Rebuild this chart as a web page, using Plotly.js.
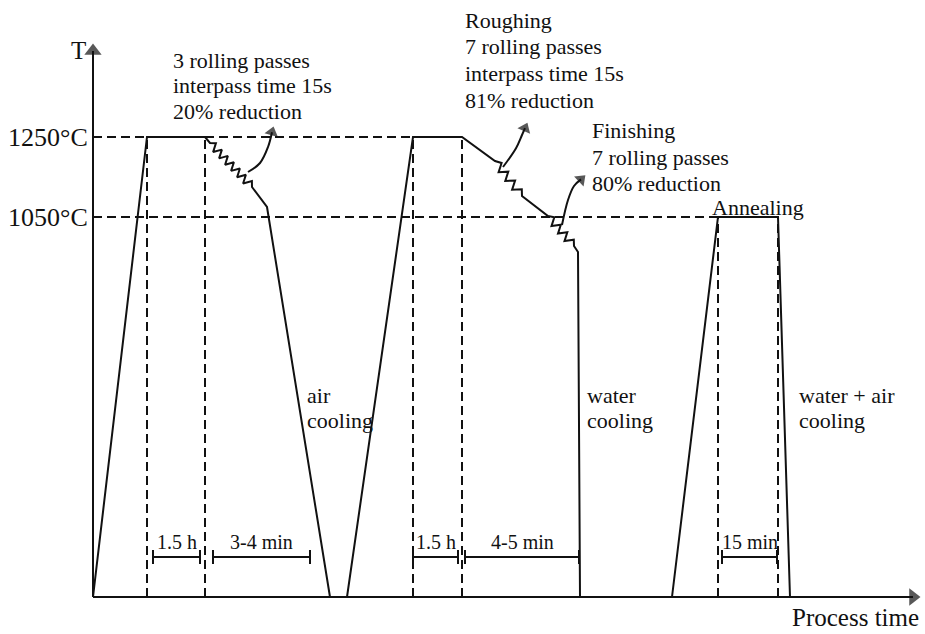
<!DOCTYPE html>
<html><head><meta charset="utf-8">
<script src="https://cdn.plot.ly/plotly-3.0.1.min.js"></script>
<style>html,body{margin:0;padding:0;background:#fff}</style>
</head><body><div id="chart" style="width:925px;height:634px"></div>
<script>
// Temperature profile (process time in arbitrary units, temperature in °C)
const cycle1Time = [0,54,112,117,122.9,120.1,128.9,126.1,134.9,132.1,140.9,138.1,146.9,144.1,152.9,150.1,158.9,159,174,237];
const cycle1Temp = [100,1250,1250,1235,1234.3,1212.3,1218.5,1196.5,1202.8,1180.8,1187,1165.3,1171.3,1149.5,1155.5,1133.8,1139.8,1125,1075,100];
const cycle2Time = [254,320,369,402,408.6,405.6,415.3,412.3,422.1,419.1,428.8,429,455,461.3,458.5,467.8,465,474.3,471.5,480.8,481,485,487];
const cycle2Temp = [100,1250,1250,1190,1185,1162,1163.3,1140.3,1141.3,1118.3,1119.5,1102.5,1052.5,1049.5,1027.3,1030.8,1008.5,1012,989.8,993.3,977.5,962.5,100];
const cycle3Time = [579,625,685,697];
const cycle3Temp = [100,1050,1050,100];

const baseTemp = 100;
const levelTemps = [1250, 1050];
const levelLabels = ['1250°C', '1050°C'];
const levelEnds = [320, 625];
const holdTimes = [54, 112, 320, 369, 625, 685];
const holdTemps = [1250, 1250, 1250, 1250, 1050, 1050];

const yAxisTop = 1465;
const xAxisEnd = 820;

const bracketStart = [60, 120, 320, 372, 629];
const bracketEnd = [107, 217, 365, 486, 684];
const bracketLabels = ['1.5 h', '3-4 min', '1.5 h', '4-5 min', '15 min'];
const bracketTemp = 200;
const bracketLabelTemp = 237;

const arrow1Time = [155,167,175,179];
const arrow1Temp = [1162.5,1185,1225,1262];
const arrow2Time = [410,423,429,432];
const arrow2Temp = [1175,1222,1255,1272];
const arrow3Time = [469,475,481,488];
const arrow3Temp = [1030,1092.5,1127.5,1144];

const noteLines = ['3 rolling passes','interpass time 15s','20% reduction',
  'Roughing','7 rolling passes','interpass time 15s','81% reduction',
  'Finishing','7 rolling passes','80% reduction',
  'Annealing','air','cooling','water','cooling','water + air','cooling'];
const noteTime = [78,78,78, 370,370,370,370, 497,497,497, 617, 212,212, 492,492, 704,704];
const noteTemp = [1442.5,1380,1315, 1542.5,1477.5,1410,1342.5, 1267.5,1200,1135, 1075, 605,542.5, 605,542.5, 605,542.5];

const ink = '#111';
const font = 'Liberation Serif, Times New Roman, serif';
const traces = [];

function line(x, y, dash, w) {
  traces.push({x: x, y: y, mode: 'lines', type: 'scatter', hoverinfo: 'skip',
    line: {color: ink, width: w || 2, dash: dash || 'solid'}});
}
function arrowLine(x, y, size, w) {
  const sizes = x.map((v, i) => i === x.length - 1 ? size : 0);
  traces.push({x: x, y: y, mode: 'lines+markers', type: 'scatter', hoverinfo: 'skip',
    line: {color: ink, width: w || 2, shape: 'spline'},
    marker: {symbol: 'triangle-up', size: sizes, color: ink, angleref: 'previous', line: {width: 0}}});
}

// axes
arrowLine([0, 0], [baseTemp, yAxisTop], 15, 2);
arrowLine([0, xAxisEnd], [baseTemp, baseTemp], 15, 2);
// dashed levels
levelTemps.forEach((t, i) => line([0, levelEnds[i]], [t, t], '9px,5px', 2));
holdTimes.forEach((h, i) => line([h, h], [baseTemp, holdTemps[i]], '9px,5px', 2));
// profile
line(cycle1Time, cycle1Temp, 'solid', 2);
line(cycle2Time, cycle2Temp, 'solid', 2);
line(cycle3Time, cycle3Temp, 'solid', 2);
// rolling arrows
arrowLine(arrow1Time, arrow1Temp, 12, 2);
arrowLine(arrow2Time, arrow2Temp, 12, 2);
arrowLine(arrow3Time, arrow3Temp, 12, 2);
// brackets
bracketStart.forEach((s, i) => {
  traces.push({x: [s, bracketEnd[i]], y: [bracketTemp, bracketTemp], mode: 'lines+markers', type: 'scatter',
    hoverinfo: 'skip', line: {color: ink, width: 2},
    marker: {symbol: 'line-ns-open', size: 10, color: ink, line: {color: ink, width: 2}}});
});

const annotations = [];
noteLines.forEach((t, i) => annotations.push({x: noteTime[i], y: noteTemp[i], text: t, showarrow: false,
  xanchor: 'left', yanchor: 'middle', font: {family: font, size: 22, color: ink}}));
bracketLabels.forEach((t, i) => annotations.push({x: (bracketStart[i] + bracketEnd[i]) / 2, y: bracketLabelTemp,
  text: t, showarrow: false, xanchor: 'center', yanchor: 'middle', font: {family: font, size: 20, color: ink}}));
levelLabels.forEach((t, i) => annotations.push({x: -3, y: levelTemps[i], text: t, showarrow: false,
  xanchor: 'right', yanchor: 'middle', font: {family: font, size: 26, color: ink}}));
annotations.push({x: -5, y: 1467.5, text: 'T', showarrow: false, xanchor: 'right', yanchor: 'middle',
  font: {family: font, size: 25, color: ink}});
annotations.push({x: 828, y: 10, text: 'Process time', showarrow: false, xanchor: 'right', yanchor: 'bottom',
  font: {family: font, size: 25, color: ink}});

Plotly.newPlot('chart', traces, {
  width: 925, height: 634, margin: {l: 0, r: 0, t: 0, b: 0},
  paper_bgcolor: '#fff', plot_bgcolor: '#fff', showlegend: false,
  xaxis: {range: [-93, 832], visible: false, fixedrange: true},
  yaxis: {range: [7.5, 1592.5], visible: false, fixedrange: true},
  annotations: annotations
}, {staticPlot: true});
</script></body></html>
